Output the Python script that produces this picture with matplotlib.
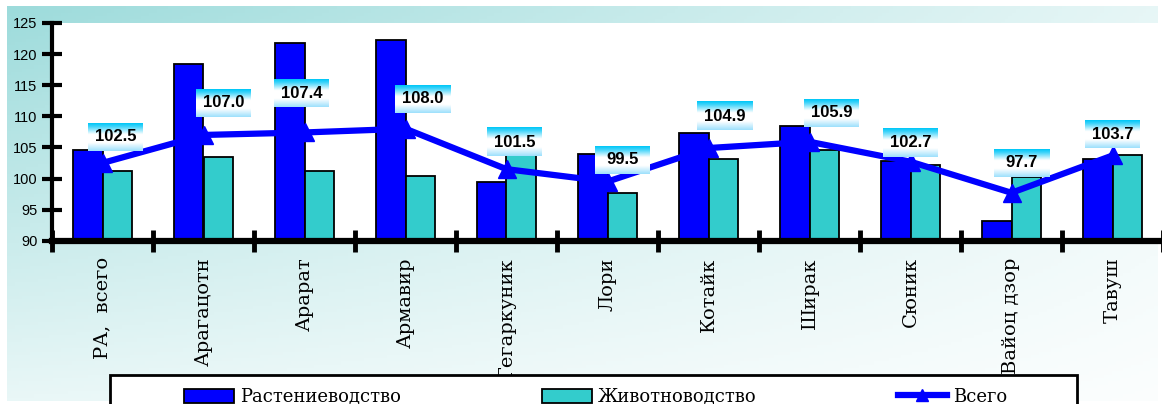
import matplotlib
matplotlib.use("Agg")
import matplotlib.pyplot as plt
import numpy as np
from matplotlib.patches import Rectangle
from matplotlib.lines import Line2D
from matplotlib.patches import Patch

regions = ["РА,  всего", "Арагацотн", "Арарат", "Армавир", "Гегаркуник", "Лори",
           "Котайк", "Ширак", "Сюник", "Вайоц дзор", "Тавуш"]
crop = [104.6, 118.4, 121.8, 122.3, 99.5, 104.0, 107.3, 108.5, 102.8, 93.1, 103.1]
livestock = [101.2, 103.4, 101.2, 100.4, 103.9, 97.6, 103.1, 104.6, 102.2, 100.3, 103.7]
total = [102.5, 107.0, 107.4, 108.0, 101.5, 99.5, 104.9, 105.9, 102.7, 97.7, 103.7]
total_labels = ["102.5", "107.0", "107.4", "108.0", "101.5", "99.5", "104.9", "105.9",
                "102.7", "97.7", "103.7"]
yticks = [90, 95, 100, 105, 110, 115, 120, 125]

# label offsets in pixels (manual placement like in the original)
label_dx = [13, 20, -3, 17, 8, 15, 16, 22, 0, 10, 0]
label_dy = [26, 32, 39, 30, 27, 22, 32, 29, 19, 30, 21]

BLUE = "#0000ff"
TEAL = "#33cccc"
W, H = 1162, 404

fig = plt.figure(figsize=(W / 100, H / 100), dpi=100)
fig.patch.set_facecolor("white")

# gradient background
bg = fig.add_axes([7 / W, 1 - 401 / H, (1158 - 7) / W, (401 - 6) / H])
bg.set_axis_off()
gx, gy = np.meshgrid(np.linspace(0, 1, 300), np.linspace(0, 1, 120))
w = 0.62 * (1 - 0.85 * gx) * (1 - 0.75 * gy) + 0.08 * (1 - gy)
teal = np.array([0.45, 0.80, 0.80])
img = np.ones((120, 300, 3)) * (1 - w[..., None]) + teal * w[..., None]
bg.imshow(img, aspect="auto", extent=[0, 1, 0, 1], origin="upper")
bg.set_zorder(-5)

ax = fig.add_axes([52 / W, 1 - 240.7 / H, (1163 - 52) / W, (240.7 - 23) / H])
ax.set_facecolor("white")

x = np.arange(len(regions))
bw = 0.29
ax.bar(x - bw / 2, [c - 90 for c in crop], bw, bottom=90, color=BLUE,
       edgecolor="black", linewidth=1.3, zorder=2)
ax.bar(x + bw / 2, [v - 90 for v in livestock], bw, bottom=90, color=TEAL,
       edgecolor="black", linewidth=1.3, zorder=2)
ax.plot(x, total, color=BLUE, linewidth=4.5, marker="^", markersize=13,
        markeredgecolor=BLUE, zorder=3, clip_on=False)

ax.set_xlim(-0.5, len(regions) - 0.5)
ax.set_ylim(90, 125)
ax.set_yticks(yticks)
ax.set_yticklabels([str(t) for t in yticks], fontfamily="Liberation Sans", fontsize=10.5)
ax.tick_params(axis="y", direction="inout", length=15, width=3, pad=3)

ax.set_xticks(np.arange(-0.5, len(regions), 1.0))
ax.set_xticklabels([])
ax.set_xticks(x, minor=True)
ax.set_xticklabels(regions, minor=True, rotation=90, fontfamily="DejaVu Serif", fontsize=14)
ax.tick_params(axis="x", which="major", direction="inout", length=16, width=3.5)
ax.tick_params(axis="x", which="minor", length=0, pad=12)

for s in ["top", "right"]:
    ax.spines[s].set_visible(False)
ax.spines["left"].set_linewidth(3)
ax.spines["bottom"].set_linewidth(4.5)
ax.spines["left"].set_zorder(4)
ax.spines["bottom"].set_zorder(4)

texts = []
for i, (v, lab) in enumerate(zip(total, total_labels)):
    t = ax.annotate(lab, (x[i], v), xytext=(label_dx[i], label_dy[i]),
                    textcoords="offset pixels", ha="center", va="center",
                    fontfamily="Liberation Sans", fontweight="bold", fontsize=12,
                    zorder=6)
    texts.append(t)

# gradient boxes behind labels
fig.canvas.draw()
stops = np.array([0.0, 0.12, 0.4, 0.7, 1.0])
cols = np.array([[0.0, 0.78, 0.97], [0.25, 0.83, 0.98], [1, 1, 1], [1, 1, 1], [0.62, 0.88, 0.99]])
ys = np.linspace(0, 1, 60)
grad = np.stack([np.interp(ys, stops, cols[:, k]) for k in range(3)], axis=1)
grad = np.repeat(grad[:, None, :], 2, axis=1)
inv = ax.transData.inverted()
for t in texts:
    bb = t.get_window_extent()
    cx = (bb.x0 + bb.x1) / 2
    cy = (bb.y0 + bb.y1) / 2
    (x0, y0) = inv.transform((cx - 27.5, cy - 14))
    (x1, y1) = inv.transform((cx + 27.5, cy + 14))
    ax.imshow(grad, extent=[x0, x1, y0, y1], aspect="auto", origin="upper", zorder=5)
ax.set_xlim(-0.5, len(regions) - 0.5)
ax.set_ylim(90, 125)

# legend frame
fig.patches.append(Rectangle((110 / W, -0.05), (1077 - 110) / W, 0.05 + 1 - 375 / H,
                             transform=fig.transFigure, facecolor="white",
                             edgecolor="black", linewidth=2, zorder=10))
handles = [Patch(facecolor=BLUE, edgecolor="black", linewidth=1.3),
           Patch(facecolor=TEAL, edgecolor="black", linewidth=1.3),
           Line2D([], [], color=BLUE, linewidth=4.5, marker="^", markersize=9)]
leg = fig.legend(handles, ["Растениеводство", "Животноводство", "Всего"],
                 loc="upper center", bbox_to_anchor=((180 + 1012) / 2 / W, 1 - 379 / H),
                 ncol=3, frameon=False, prop={"family": "DejaVu Serif", "size": 13},
                 handlelength=2.75, handleheight=0.8, handletextpad=0.35,
                 columnspacing=7.8, borderpad=0)
leg.set_zorder(11)

fig.savefig("out.png", dpi=100)
